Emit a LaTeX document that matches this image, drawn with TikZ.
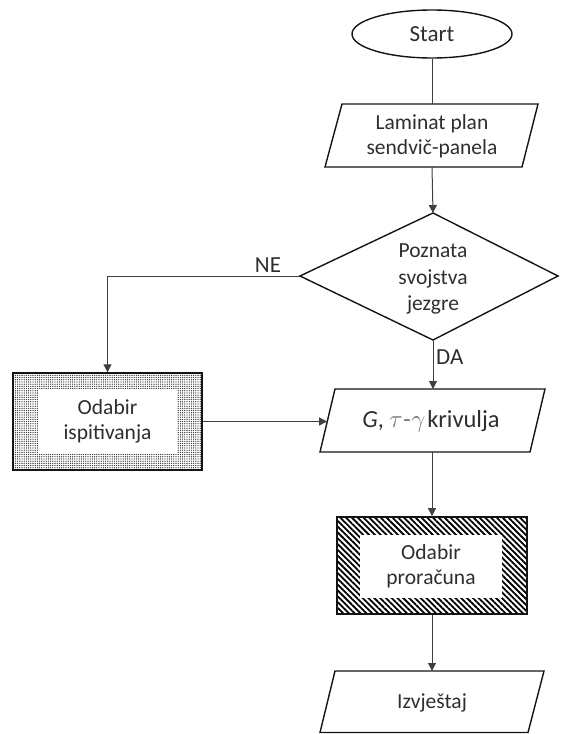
\documentclass[tikz,border=0pt]{standalone}
\usepackage{fontspec}
\setmainfont{Carlito}
\usetikzlibrary{arrows.meta,shapes.geometric,patterns,patterns.meta}
\begin{document}
\begin{tikzpicture}[x=1pt,y=-1pt,
  shapeline/.style={draw=black!92,line width=1.4pt},
  conn/.style={draw=black!75,line width=1pt,-{Triangle[length=8pt,width=8pt]}},
  plainconn/.style={draw=black!75,line width=1pt},
  lbl/.style={text=black!82,font=\fontsize{21.5}{25}\selectfont,align=center,inner sep=0pt},
  biglbl/.style={lbl,font=\fontsize{23}{27}\selectfont},
  whitebox/.style={fill=white,inner sep=0pt,text=black!82,font=\fontsize{21.5}{25}\selectfont,align=center}]
\useasboundingbox (0,0) rectangle (560,734);

% Start
\node[shapeline,ellipse,minimum width=160pt,minimum height=48pt,inner sep=0pt,biglbl] (start) at (432,34) {Start};

% Laminat plan
\draw[shapeline] (342,104) -- (538,104) -- (522,167) -- (325,167) -- cycle;
\node[lbl] (lam) at (432,136) {Laminat plan\\sendvič-panela};
\coordinate (lamT) at (432,104);
\coordinate (lamB) at (432,167);

% Diamond
\draw[shapeline] (433,213) -- (558,276) -- (433,340) -- (300,276) -- cycle;
\node[lbl,font=\fontsize{21.5}{26.5}\selectfont] (dec) at (433,279) {Poznata\\svojstva\\jezgre};
\coordinate (dT) at (433,213);
\coordinate (dB) at (433,340);
\coordinate (dL) at (300,276);

% Odabir ispitivanja
\node[shapeline,pattern={Dots[distance=2.2pt,radius=0.65pt]},pattern color=black!85,
      minimum width=189pt,minimum height=97pt,inner sep=0pt] (isp) at (107.5,421.5) {};
\node[whitebox,minimum width=139pt,minimum height=64pt] (ispin) at (107.5,421) {Odabir\\ispitivanja};

% G, tau-gamma krivulja
\draw[shapeline] (335,389) -- (545,389) -- (530,452) -- (320,452) -- cycle;
\node[lbl,font=\fontsize{24.5}{30}\selectfont] (gk) at (431,421) {\textit{G}, \textcolor{black!55}{$\tau$\kern0.5pt-\kern0.5pt$\gamma$}\kern2pt krivulja};
\coordinate (gT) at (433,389);
\coordinate (gB) at (432,452);
\coordinate (gL) at (327.1,421.5);

% Odabir proracuna
\node[shapeline,pattern={Lines[angle=-45,distance=4.1pt,line width=1.8pt]},pattern color=black,
      minimum width=190pt,minimum height=97pt,inner sep=0pt] (pror) at (432,565.5) {};
\node[whitebox,minimum width=142pt,minimum height=63pt] (prorin) at (431,566.5) {Odabir\\proračuna};

% Izvjestaj
\draw[shapeline] (335,671) -- (544,671) -- (528,732.5) -- (320,732.5) -- cycle;
\node[lbl] (izv) at (432,703) {Izvještaj};
\coordinate (izT) at (432,671);

% Connectors
\draw[plainconn] (start.south) -- (lamT);
\draw[conn] (lamB) -- (dT);
\draw[conn] (dL) -| (isp.north);
\draw[conn] (dB) -- (gT);
\draw[conn] (isp.east) -- (gL);
\draw[conn] (gB) -- (pror.north);
\draw[conn] (pror.south) -- (izT);

% Labels
\node[biglbl] (ne) at (268,265) {NE};
\node[biglbl,anchor=west] (da) at (436,357) {DA};
\end{tikzpicture}
\end{document}
